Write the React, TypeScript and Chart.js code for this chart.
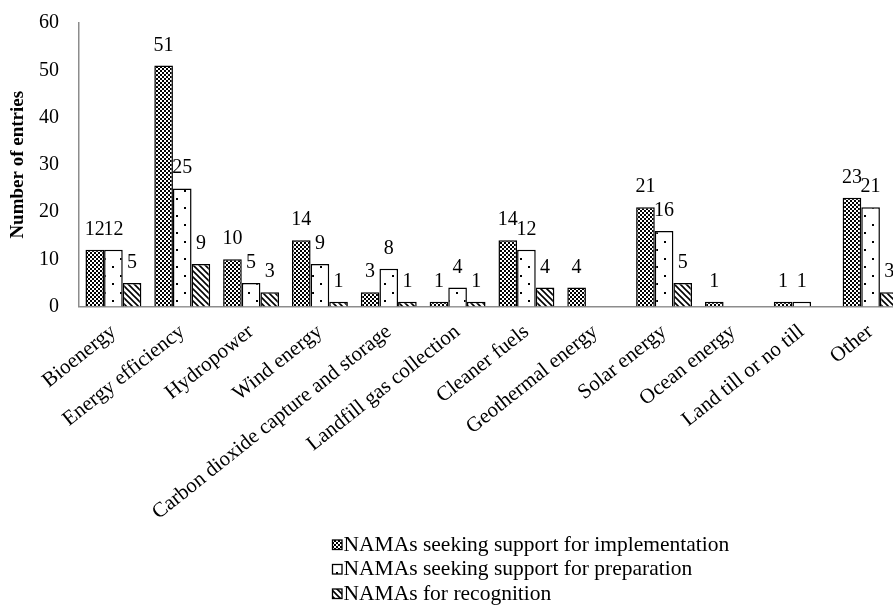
import { useEffect, useRef } from "react";
import { Chart, registerables } from "chart.js";

Chart.register(...registerables);

const categories = [
  "Bioenergy",
  "Energy efficiency",
  "Hydropower",
  "Wind energy",
  "Carbon dioxide capture and storage",
  "Landfill gas collection",
  "Cleaner fuels",
  "Geothermal energy",
  "Solar energy",
  "Ocean energy",
  "Land till or no till",
  "Other",
];
const seriesNames = [
  "NAMAs seeking support for implementation",
  "NAMAs seeking support for preparation",
  "NAMAs for recognition",
];
const implementation = [12, 51, 10, 14, 3, 1, 14, 4, 21, 1, 1, 23];
const preparation = [12, 25, 5, 9, 8, 4, 12, null, 16, null, 1, 21];
const recognition = [5, 9, 3, 1, 1, 1, 4, null, 5, null, null, 3];
const yMin = 0;
const yMax = 60;
const yStep = 10;
const yTitle = "Number of entries";

const FAMILY = "'Liberation Serif', 'Times New Roman', serif";

function makePattern(kind: number): CanvasPattern | string {
  const c = document.createElement("canvas");
  const ctx = c.getContext("2d");
  if (!ctx) return "#888";
  if (kind === 0) {
    c.width = 4;
    c.height = 4;
    ctx.fillStyle = "#000";
    ctx.fillRect(0, 0, 4, 4);
    ctx.fillStyle = "#fff";
    ctx.fillRect(0, 0, 2, 2);
    ctx.fillRect(2, 2, 2, 2);
  } else if (kind === 1) {
    c.width = 16;
    c.height = 17;
    ctx.fillStyle = "#fff";
    ctx.fillRect(0, 0, 16, 17);
    ctx.fillStyle = "#000";
    ctx.fillRect(8, 3, 2, 2);
    ctx.fillRect(0, 11, 2, 2);
  } else {
    c.width = 6;
    c.height = 6;
    ctx.fillStyle = "#fff";
    ctx.fillRect(0, 0, 6, 6);
    ctx.strokeStyle = "#000";
    ctx.lineWidth = 1.6;
    ctx.beginPath();
    ctx.moveTo(-1, -1);
    ctx.lineTo(7, 7);
    ctx.moveTo(-4, 2);
    ctx.lineTo(4, 10);
    ctx.moveTo(2, -4);
    ctx.lineTo(10, 4);
    ctx.stroke();
  }
  return ctx.createPattern(c, "repeat") || "#888";
}

export default function App() {
  const canvasRef = useRef<HTMLCanvasElement | null>(null);

  useEffect(() => {
    const canvas = canvasRef.current;
    if (!canvas) return;
    const patterns = [makePattern(0), makePattern(1), makePattern(2)];
    const seriesData = [implementation, preparation, recognition];

    const valueLabels = {
      id: "valueLabels",
      afterDatasetsDraw(chart: any) {
        const ctx = chart.ctx;
        ctx.save();
        ctx.font = `20px ${FAMILY}`;
        ctx.fillStyle = "#000";
        ctx.textAlign = "center";
        ctx.textBaseline = "alphabetic";
        chart.data.datasets.forEach((ds: any, di: number) => {
          const meta = chart.getDatasetMeta(di);
          meta.data.forEach((el: any, i: number) => {
            const v = ds.data[i];
            if (v === null || v === undefined) return;
            ctx.fillText(String(v), el.x, el.y - 15);
          });
        });
        ctx.restore();
      },
    };

    const customLegend = {
      id: "customLegend",
      afterDraw(chart: any) {
        const ctx = chart.ctx;
        ctx.save();
        ctx.font = `21.5px ${FAMILY}`;
        ctx.textAlign = "left";
        ctx.textBaseline = "alphabetic";
        const baselines = [550.5, 575, 599.5];
        seriesNames.forEach((name, i) => {
          const by = baselines[i];
          ctx.fillStyle = patterns[i];
          ctx.fillRect(332.5, by - 10.5, 9.5, 9.5);
          ctx.strokeStyle = "#000";
          ctx.lineWidth = 1.3;
          ctx.strokeRect(332.5, by - 10.5, 9.5, 9.5);
          ctx.fillStyle = "#000";
          ctx.fillText(name, 343.5, by);
        });
        ctx.restore();
      },
    };

    const chart = new Chart(canvas, {
      type: "bar",
      data: {
        labels: categories,
        datasets: seriesData.map((d, i) => ({
          label: seriesNames[i],
          data: d,
          backgroundColor: patterns[i] as any,
          borderColor: "#000",
          borderWidth: 1.5,
          categoryPercentage: 0.812,
          barPercentage: 1,
        })),
      },
      options: {
        animation: false,
        responsive: true,
        maintainAspectRatio: false,
        layout: { padding: { top: 23, left: 0, right: 0, bottom: 0 } },
        plugins: {
          legend: { display: false },
          tooltip: { enabled: false },
        },
        scales: {
          x: {
            grid: { display: false, drawTicks: false },
            border: { display: true, color: "#8c8c8c", width: 1.5 },
            ticks: {
              autoSkip: false,
              minRotation: 38.5,
              maxRotation: 38.5,
              padding: 13,
              color: "#000",
              font: { family: FAMILY, size: 21 },
            },
            afterFit: (s: any) => {
              s.height = 302.5;
            },
          },
          y: {
            min: yMin,
            max: yMax,
            grid: { display: false, drawTicks: true, tickLength: 16 },
            border: { display: true, color: "#8c8c8c", width: 1.5 },
            ticks: {
              stepSize: yStep,
              padding: 4,
              color: "#000",
              font: { family: FAMILY, size: 20 },
            },
            title: {
              display: true,
              text: yTitle,
              color: "#000",
              font: { family: FAMILY, size: 19, weight: "bold" },
              padding: { top: 7, bottom: 0 },
            },
            afterFit: (s: any) => {
              s.width = 79;
            },
          },
        },
      },
      plugins: [valueLabels, customLegend],
    });

    return () => {
      chart.destroy();
    };
  }, []);

  return (
    <div
      style={{
        position: "fixed",
        left: 0,
        top: 0,
        width: 893,
        height: 609,
        overflow: "hidden",
        background: "#fff",
      }}
    >
      <div style={{ position: "relative", width: 905, height: 609 }}>
        <canvas ref={canvasRef} />
      </div>
    </div>
  );
}
